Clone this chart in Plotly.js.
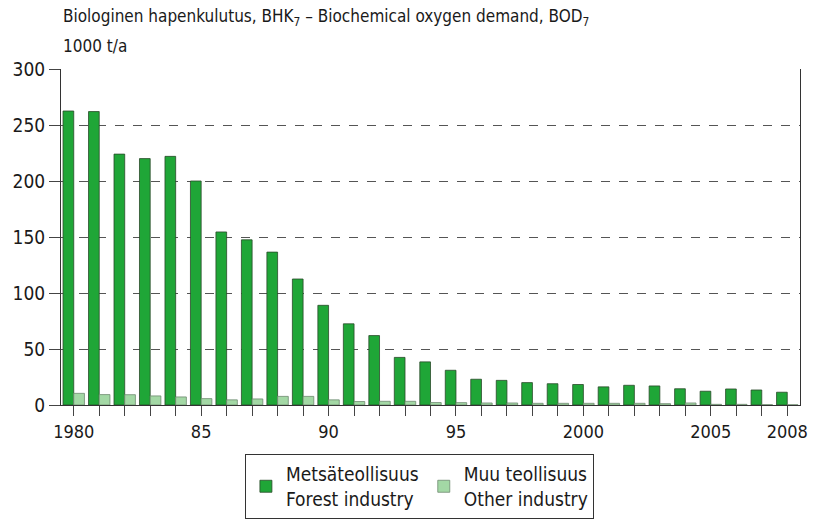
<!DOCTYPE html>
<html><head><meta charset="utf-8">
<script src="https://cdn.plot.ly/plotly-3.0.1.min.js"></script>
<style>body{margin:0;padding:0;background:#fff}#c{width:813px;height:521px}</style>
</head><body><div id="c"></div>
<script>
const years = ['1980','1981','1982','1983','1984','1985','1986','1987','1988','1989','1990','1991','1992','1993','1994','1995','1996','1997','1998','1999','2000','2001','2002','2003','2004','2005','2006','2007','2008'];
const forest = [262.5,262,224,220,222,200,154.5,147.5,136.5,112.5,89,72.5,62,42.5,38.5,31,23,22,20,19,18.3,16.2,17.6,17,14.5,12.3,14.3,13.4,11.4];
const other = [10.4,9.3,9.2,8.1,7.2,5.7,4.6,5.4,7.7,7.7,4.6,3.1,3.3,3.3,2.2,2.1,1.8,1.8,1.5,1.5,1.5,1.5,1.5,1.2,1.8,0.6,0.6,0.3,0.2];
const tickYears = ['1980','1985','1990','1995','2000','2005','2008'];
const tickLabels = ['1980','85','90','95','2000','2005','2008'];
const forestName = 'Metsäteollisuus<br>Forest industry';
const otherName = 'Muu teollisuus<br>Other industry';
const titleLine1 = 'Biologinen hapenkulutus, BHK<sub>7</sub> – Biochemical oxygen demand, BOD<sub>7</sub>';
const titleLine2 = '1000 t/a';

const FONT = '"Liberation Sans Narrow", "DejaVu Sans Condensed", sans-serif';

const data = [
  {type:'bar', x:years, y:forest, name:forestName,
   marker:{color:'#1fa637', line:{color:'#2a4a2a', width:0.8}}},
  {type:'bar', x:years, y:other, name:otherName,
   marker:{color:'#a3d8a5', line:{color:'#6f8a70', width:0.8}}}
];
const layout = {
  width:813, height:521,
  margin:{l:61, r:13, t:69, b:116, autoexpand:false},
  paper_bgcolor:'#fff', plot_bgcolor:'#fff',
  font:{family:FONT, size:18, color:'#1a1a1a'},
  barmode:'group', bargap:0.16, bargroupgap:0,
  annotations:[
    {text:titleLine1, xref:'paper', yref:'paper', x:0, y:1.1518, xanchor:'left', yanchor:'middle',
     showarrow:false, font:{family:FONT, size:17, color:'#1a1a1a'}},
    {text:titleLine2, xref:'paper', yref:'paper', x:0, y:1.0685, xanchor:'left', yanchor:'middle',
     showarrow:false, font:{family:FONT, size:17, color:'#1a1a1a'}}
  ],
  showlegend:true,
  legend:{orientation:'h', x:0.485, xanchor:'center', y:-0.146, yanchor:'top',
          bordercolor:'#333', borderwidth:1, bgcolor:'#fff',
          font:{family:FONT, size:19, color:'#1a1a1a'}, itemwidth:30, traceorder:'normal'},
  xaxis:{type:'category', range:[-0.5, 28.5], tickmode:'array', tickvals:tickYears, ticktext:tickLabels,
         ticks:'outside', ticklen:10, tickcolor:'#444', tickwidth:1,
         showline:true, linecolor:'#333', linewidth:1, mirror:false, showgrid:false,
         tickfont:{family:FONT, size:18, color:'#1a1a1a'}, fixedrange:true},
  yaxis:{range:[0,300], tickvals:[0,50,100,150,200,250,300], ticks:'outside', ticklen:11, tickcolor:'#444',
         showline:true, linecolor:'#333', linewidth:1, mirror:true,
         showgrid:true, gridcolor:'#555', griddash:'dash', gridwidth:1,
         zeroline:false, tickfont:{family:FONT, size:19, color:'#1a1a1a'}, fixedrange:true}
};
layout.xaxis.minor = {tickmode:'array', tickvals:years, ticks:'outside', ticklen:10, tickcolor:'#444', showgrid:false};
Plotly.newPlot('c', data, layout, {displayModeBar:false, staticPlot:true});
</script></body></html>
